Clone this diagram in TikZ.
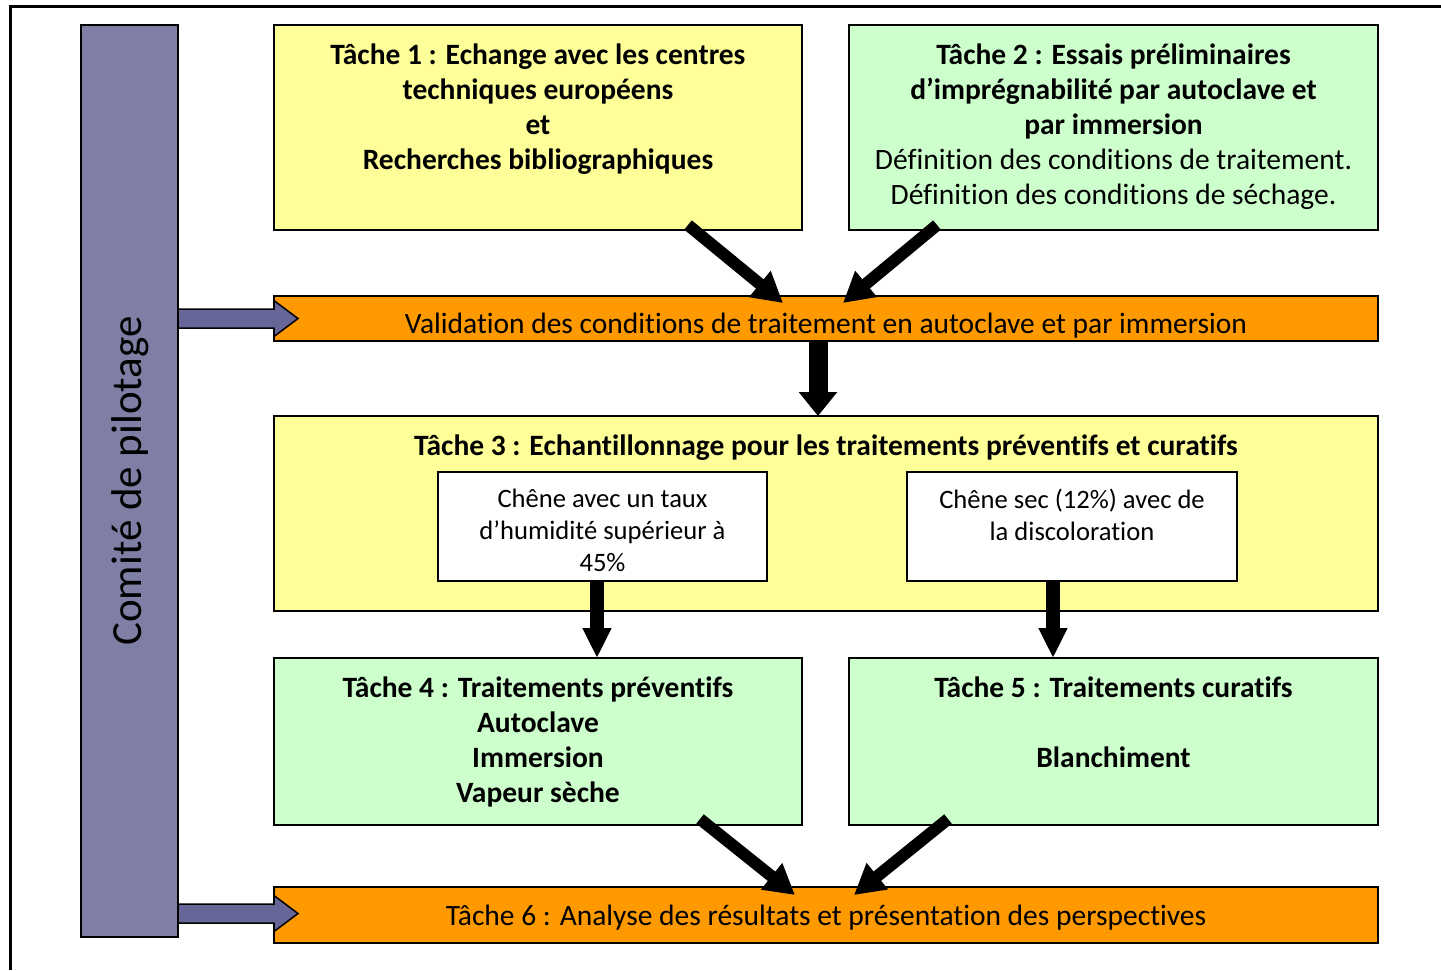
\documentclass[tikz,border=0pt]{standalone}
\usepackage{fontspec}
\setmainfont{Carlito}[Ligatures=NoCommon]
\usetikzlibrary{arrows.meta}
\definecolor{taskyellow}{HTML}{FFFF99}
\definecolor{taskgreen}{HTML}{CCFFCC}
\definecolor{taskorange}{HTML}{FF9900}
\definecolor{pilotfill}{HTML}{7F7FA6}
\definecolor{pilotarrow}{HTML}{666699}
\begin{document}
\begin{tikzpicture}[x=1pt, y=-1pt,
  box/.style={draw, line width=1.5pt, inner sep=0, outer sep=0, anchor=north west},
  boldtxt/.style={font=\bfseries\fontsize{29.5}{35}\selectfont, align=center, inner sep=0, anchor=north},
  plaintxt/.style={font=\fontsize{29.5}{35}\selectfont, align=center, inner sep=0},
  smalltxt/.style={font=\fontsize{26.6}{32}\selectfont, align=center, inner sep=0, anchor=north},
  fatarrow/.style={line width=12pt, -{Triangle[length=30pt, width=32pt]}},
  bigarrow/.style={line width=19pt, -{Triangle[length=24pt, width=37pt]}},
  midarrow/.style={line width=14pt, -{Triangle[length=30pt, width=27pt]}},
  pilotarr/.style={draw, line width=1.5pt, fill=pilotarrow, line join=miter}]
\useasboundingbox (0,0) rectangle (1441,970);
% outer frame
\draw[line width=3pt] (10,970) -- (10,6.5) -- (1441,6.5);

% steering committee
\node[box, fill=pilotfill, minimum width=97pt, minimum height=912pt] (com) at (81,25) {};
\node[rotate=90, font=\fontsize{43}{48}\selectfont, inner sep=0] (comtxt) at ([xshift=1pt]com.center) {Comité de pilotage};

% top tasks
\node[box, fill=taskyellow, minimum width=528pt, minimum height=205pt] (t1) at (274,25) {};
\node[boldtxt] (t1txt) at ([yshift=-19pt]t1.north) {Tâche 1 : Echange avec les centres\\techniques européens\\et\\Recherches bibliographiques};
\node[box, fill=taskgreen, minimum width=529pt, minimum height=205pt] (t2) at (849,25) {};
\node[boldtxt] (t2txt) at ([yshift=-19pt]t2.north) {Tâche 2 : Essais préliminaires\\d’imprégnabilité par autoclave et\\par immersion\\
  \mdseries Définition des conditions de traitement.\\\mdseries Définition des conditions de séchage.};

% validation bar
\node[box, fill=taskorange, minimum width=1104pt, minimum height=45pt] (val) at (274,296) {};
\node[plaintxt] (valtxt) at ([yshift=-7pt]val.center) {Validation des conditions de traitement en autoclave et par immersion};

% task 3 with the two samples
\node[box, fill=taskyellow, minimum width=1104pt, minimum height=195pt] (t3) at (274,416) {};
\node[boldtxt] (t3txt) at ([yshift=-19pt]t3.north) {Tâche 3 : Echantillonnage pour les traitements préventifs et curatifs};
\node[box, fill=white, minimum width=329pt, minimum height=109pt] (wa) at (438,472) {};
\node[smalltxt] (watxt) at ([yshift=-17pt]wa.north) {Chêne avec un taux\\d’humidité supérieur à\\45\%};
\node[box, fill=white, minimum width=330pt, minimum height=109pt] (wb) at (907,472) {};
\node[smalltxt] (wbtxt) at ([yshift=-17pt]wb.north) {Chêne sec (12\%) avec de\\la discoloration};

% tasks 4 and 5
\node[box, fill=taskgreen, minimum width=528pt, minimum height=167pt] (t4) at (274,658) {};
\node[boldtxt] (t4txt) at ([yshift=-19pt]t4.north) {Tâche 4 : Traitements préventifs\\Autoclave\\Immersion\\Vapeur sèche};
\node[box, fill=taskgreen, minimum width=529pt, minimum height=167pt] (t5) at (849,658) {};
\node[boldtxt] (t5txt) at ([yshift=-19pt]t5.north) {Tâche 5 : Traitements curatifs\\[35pt]Blanchiment};

% task 6 bar
\node[box, fill=taskorange, minimum width=1104pt, minimum height=56pt] (t6) at (274,887) {};
\node[plaintxt] (t6txt) at ([yshift=-3pt]t6.center) {Tâche 6 : Analyse des résultats et présentation des perspectives};

% arrows
\draw[fatarrow] ([xshift=-114pt, yshift=5pt]t1.south east) -- ([xshift=-43pt, yshift=-7pt]val.north);
\draw[fatarrow] ([xshift=88pt, yshift=5pt]t2.south west) -- ([xshift=17pt, yshift=-7pt]val.north);
\draw[bigarrow] ([xshift=-8pt]val.south) -- ([xshift=-8pt]t3.north);
\draw[midarrow] ([xshift=-5.5pt]wa.south) -- ([xshift=-5.5pt]wa.south |- t4.north);
\draw[midarrow] ([xshift=-19pt]wb.south) -- ([xshift=-19pt]wb.south |- t5.north);
\draw[fatarrow] ([xshift=-102pt, yshift=6pt]t4.south east) -- ([xshift=-31pt, yshift=-8pt]t6.north);
\draw[fatarrow] ([xshift=99pt, yshift=6pt]t5.south west) -- ([xshift=28pt, yshift=-8pt]t6.north);

% committee block arrows
\draw[pilotarr] (com.east |- val.west) ++(0,-9.5) -- ++(96,0) -- ++(0,-8.5) -- ++(24,18)
  -- ++(-24,18) -- ++(0,-8.5) -- ++(-96,0) -- cycle;
\draw[pilotarr] (com.east |- t6.west) ++(0,-11) -- ++(96,0) -- ++(0,-8.5) -- ++(24,18)
  -- ++(-24,18) -- ++(0,-8.5) -- ++(-96,0) -- cycle;
\end{tikzpicture}
\end{document}
